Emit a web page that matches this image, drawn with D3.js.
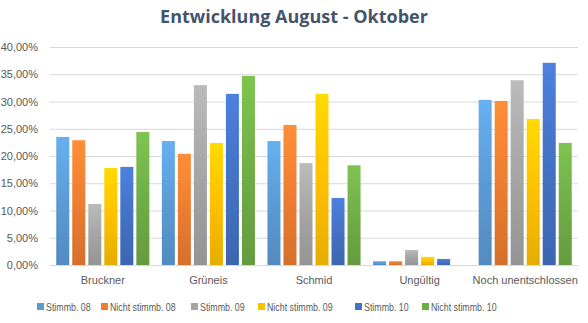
<!DOCTYPE html>
<html><head><meta charset="utf-8">
<script src="https://cdn.jsdelivr.net/npm/d3@7"></script>
<style>body{margin:0;background:#fff}svg{display:block}text{font-family:"Liberation Sans",Arial,sans-serif}</style>
</head><body><div id="c"></div>
<script>
const categories = ["Bruckner","Grüneis","Schmid","Ungültig","Noch unentschlossen"];
const seriesNames = ["Stimmb. 08","Nicht stimmb. 08","Stimmb. 09","Nicht stimmb. 09","Stimmb. 10","Nicht stimmb. 10"];
const stimmb08 = [23.5, 22.75, 22.75, 0.7, 30.3];
const nichtStimmb08 = [22.9, 20.4, 25.7, 0.7, 30.1];
const stimmb09 = [11.2, 33.0, 18.7, 2.75, 33.9];
const nichtStimmb09 = [17.8, 22.4, 31.4, 1.5, 26.8];
const stimmb10 = [18.0, 31.4, 12.3, 1.1, 37.1];
const nichtStimmb10 = [24.4, 34.7, 18.3, 0, 22.4];
const yTicks = [0,5,10,15,20,25,30,35,40];
const title = "Entwicklung August - Oktober";
const colors = ["#5b9bd5","#ed7d31","#a5a5a5","#ffc000","#4472c4","#70ad47"];

const seriesValues = [stimmb08, nichtStimmb08, stimmb09, nichtStimmb09, stimmb10, nichtStimmb10];
const W = 588, H = 323;
const m = {l:50, r:10, t:47, b:58};
const svg = d3.select("#c").append("svg").attr("width",W).attr("height",H);
const defs = svg.append("defs");
colors.forEach((c,i)=>{
  const g = defs.append("linearGradient").attr("id","g"+i).attr("x1",0).attr("y1",0).attr("x2",0).attr("y2",1);
  g.append("stop").attr("offset","0%").attr("stop-color", d3.color(c).brighter(0.35));
  g.append("stop").attr("offset","50%").attr("stop-color", c);
  g.append("stop").attr("offset","100%").attr("stop-color", d3.color(c).darker(0.3));
});

const x0 = d3.scaleBand().domain(categories).range([m.l, W-m.r]);
const x1 = d3.scaleBand().domain(seriesNames).range([0, x0.bandwidth()]).paddingInner(0.1875).paddingOuter(0.39);
const y = d3.scaleLinear().domain([0,40]).range([H-m.b, m.t]);

svg.append("text").attr("x",W/2).attr("y",23).attr("text-anchor","middle")
  .attr("font-size",18).attr("font-weight","bold").attr("fill","#44546a")
  .style("font-family","'Open Sans',sans-serif").text(title);

const fmt = v => d3.format(".2f")(v).replace(".",",") + "%";
const yAxis = svg.append("g").attr("transform",`translate(${m.l},0)`)
  .call(d3.axisLeft(y).tickValues(yTicks).tickFormat(fmt).tickSize(-(W-m.l-m.r)).tickPadding(12));
yAxis.select(".domain").remove();
yAxis.selectAll(".tick line").attr("stroke","#d9d9d9");
yAxis.selectAll(".tick text").attr("fill","#595959").attr("font-size",11).style("font-family","'Liberation Sans',sans-serif");

const groups = svg.append("g").selectAll("g").data(categories).join("g")
  .attr("transform", d=>`translate(${x0(d)},0)`);
groups.selectAll("rect").data((d,ci)=>seriesNames.map((s,si)=>({s, si, v: seriesValues[si][ci]})))
  .join("rect")
  .attr("x", d=>x1(d.s)).attr("width", x1.bandwidth())
  .attr("y", d=>y(d.v)).attr("height", d=>y(0)-y(d.v))
  .attr("fill", d=>`url(#g${d.si})`);

const xAxis = svg.append("g").attr("transform",`translate(0,${y(0)})`)
  .call(d3.axisBottom(x0).tickSize(0).tickPadding(11));
xAxis.select(".domain").attr("stroke","#d9d9d9");
xAxis.selectAll(".tick text").attr("fill","#595959").attr("font-size",11).style("font-family","'Liberation Sans',sans-serif");

const legendX = [37, 101, 191, 258, 355, 422];
const leg = svg.append("g").selectAll("g").data(seriesNames).join("g")
  .attr("transform",(d,i)=>`translate(${legendX[i]},${303})`);
leg.append("rect").attr("width",7).attr("height",7).attr("fill",(d,i)=>colors[i]);
leg.append("text").attr("x",9).attr("y",7.5).attr("font-size",10.5).attr("fill","#595959")
  .text(d=>d)
  .each(function(){
    const w = this.getComputedTextLength();
    d3.select(this).attr("textLength", w*0.84).attr("lengthAdjust","spacingAndGlyphs");
  });
</script></body></html>
